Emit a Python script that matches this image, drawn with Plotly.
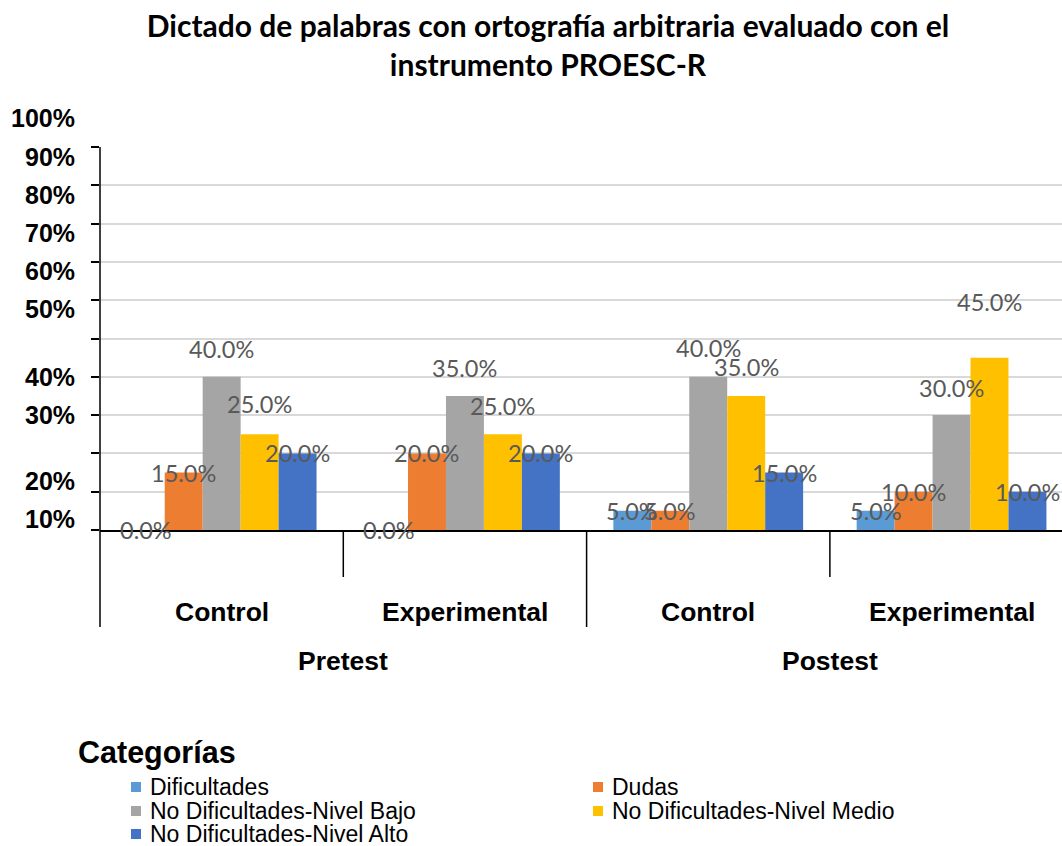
import plotly.graph_objects as go

# categories
groups = ["Pretest", "Pretest", "Postest", "Postest"]
subgroups = ["Control", "Experimental", "Control", "Experimental"]

# series values (fraction)
series_names = [
    "Dificultades",
    "Dudas",
    "No Dificultades-Nivel Bajo",
    "No Dificultades-Nivel Medio",
    "No Dificultades-Nivel Alto",
]
dificultades = [0.00, 0.00, 0.05, 0.05]
dudas = [0.15, 0.20, 0.05, 0.10]
nivel_bajo = [0.40, 0.35, 0.40, 0.30]
nivel_medio = [0.25, 0.25, 0.35, 0.45]
nivel_alto = [0.20, 0.20, 0.15, 0.10]

# y tick labels as they appear on the original (misplaced in the source chart)
y_tick_labels = ["100%", "90%", "80%", "70%", "60%", "50%", "40%", "30%", "20%", "10%"]

title_text = "Dictado de palabras con ortografía arbitraria evaluado con el<br>instrumento PROESC-R"
legend_title = "Categorías"

# ---- styling ----
colors = ["#5B9BD5", "#ED7D31", "#A5A5A5", "#FFC000", "#4472C4"]
# vertical offset (px) of each data label above the bar top
label_shift = [
    [0, 0, 0, 0],
    [0, 0, 0, 0],
    [28, 28, 29, 27],
    [30, 28, 29, 56],
    [0, 0, 0, 0],
]
y_label_px = [118, 157, 195, 233, 271, 309, 377, 415, 481, 519]
legend_rows_px = [787, 811, 834]
legend_cols_px = [131, 593]

W, H = 1062, 846
PLOT_LEFT, PLOT_TOP, PLOT_BOTTOM = 100, 147, 530
X_RANGE = [-0.5, 3.454]
BARGAP = 0.22


def py(p):
    return (PLOT_BOTTOM - p) / (PLOT_BOTTOM - PLOT_TOP)


def px_x(p):
    return (p - PLOT_LEFT) / (W - PLOT_LEFT)


cat_px = (W - PLOT_LEFT) / (X_RANGE[1] - X_RANGE[0])
bar_px = cat_px * (1 - BARGAP) / len(series_names)

x_keys = [f"{g} {s}" for g, s in zip(groups, subgroups)]
all_values = [dificultades, dudas, nivel_bajo, nivel_medio, nivel_alto]

fig = go.Figure()
for name, vals, col in zip(series_names, all_values, colors):
    fig.add_trace(go.Bar(x=x_keys, y=vals, name=name, showlegend=False,
                         marker=dict(color=col, line=dict(width=0))))

annotations = []
shapes = []

# data labels
for i, vals in enumerate(all_values):
    for j, v in enumerate(vals):
        annotations.append(dict(
            x=j, y=v, xref="x", yref="y", text=f"{v * 100:.1f}%", showarrow=False,
            xshift=(i - 2) * bar_px, yshift=label_shift[i][j],
            font=dict(family="Lato", size=23.5, color="#595959"),
        ))

# y tick labels
for lab, p in zip(y_tick_labels, y_label_px):
    annotations.append(dict(
        x=px_x(77), y=py(p), xref="paper", yref="paper", text=f"<b>{lab}</b>", showarrow=False,
        xanchor="right", yanchor="middle",
        font=dict(family="Liberation Sans", size=25, color="black"),
    ))

# category labels
for j, s in enumerate(subgroups):
    annotations.append(dict(
        x=j, y=py(612), xref="x", yref="paper", text=f"<b>{s}</b>", showarrow=False,
        yanchor="middle", font=dict(family="Liberation Sans", size=26.5, color="black"),
    ))
outer = []
for g in groups:
    if g not in outer:
        outer.append(g)
        idx = [k for k, gg in enumerate(groups) if gg == g]
        annotations.append(dict(
            x=sum(idx) / len(idx), y=py(661), xref="x", yref="paper", text=f"<b>{g}</b>",
            showarrow=False, yanchor="middle",
            font=dict(family="Liberation Sans", size=26.5, color="black"),
        ))

# left axis line (runs down through the category label area)
shapes.append(dict(type="line", xref="paper", yref="paper", x0=0, x1=0, y0=1, y1=py(627),
                   line=dict(color="black", width=1.5)))
# category divider lines
for b in [0.5, 1.5, 2.5]:
    low = 627 if b == 1.5 else 577
    shapes.append(dict(type="line", xref="x", yref="paper", x0=b, x1=b, y0=0, y1=py(low),
                       line=dict(color="black", width=1.5)))

# legend (drawn by hand to match the original's two-column layout)
annotations.append(dict(
    x=px_x(76), y=py(752), xref="paper", yref="paper", text=f"<b>{legend_title}</b>",
    showarrow=False, xanchor="left", yanchor="middle",
    font=dict(family="Liberation Sans", size=30.5, color="black"),
))
for k, (name, col) in enumerate(zip(series_names, colors)):
    ry = legend_rows_px[k // 2]
    cx = legend_cols_px[k % 2]
    shapes.append(dict(type="rect", xref="paper", yref="paper",
                       x0=px_x(cx), x1=px_x(cx + 10), y0=py(ry - 5), y1=py(ry + 5),
                       fillcolor=col, line=dict(width=0)))
    annotations.append(dict(
        x=px_x(cx + 17), y=py(ry), xref="paper", yref="paper", text=name, showarrow=False,
        xanchor="left", yanchor="middle",
        font=dict(family="Liberation Sans", size=23, color="black"),
    ))

fig.update_layout(
    width=W, height=H,
    margin=dict(l=PLOT_LEFT, r=0, t=PLOT_TOP, b=H - PLOT_BOTTOM, autoexpand=False),
    paper_bgcolor="white", plot_bgcolor="white",
    barmode="group", bargap=BARGAP, bargroupgap=0,
    showlegend=False,
    title=dict(text=f"<b>{title_text}</b>", x=0.516, xanchor="center", y=1 - 37 / H, yanchor="top",
               font=dict(family="Lato", size=30, color="black")),
    xaxis=dict(type="category", range=X_RANGE, showticklabels=False, ticks="",
               showline=True, linecolor="black", linewidth=1.5, showgrid=False, zeroline=False),
    yaxis=dict(range=[0, 1], tickvals=[k / 10 for k in range(11)], showticklabels=False,
               ticks="outside", ticklen=8, tickwidth=1.5, tickcolor="black",
               showline=False,
               showgrid=True, gridcolor="#D9D9D9", gridwidth=1.5, zeroline=False),
    annotations=annotations,
    shapes=shapes,
)

fig.write_html("out.html", config={"displayModeBar": False},
               post_script="document.body.style.margin='0px';")
